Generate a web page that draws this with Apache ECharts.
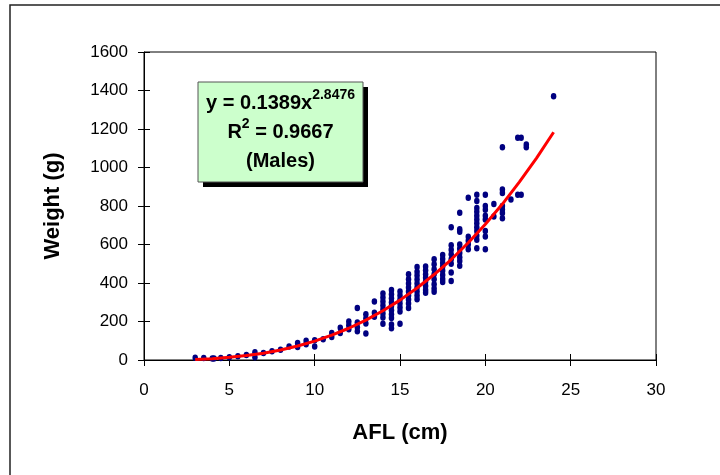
<!DOCTYPE html>
<html>
<head>
<meta charset="utf-8">
<script src="https://cdn.jsdelivr.net/npm/echarts@6/dist/echarts.min.js"></script>
<style>html,body{margin:0;padding:0;background:#fff;}#c{width:720px;height:475px;}</style>
</head>
<body>
<div id="c"></div>
<script>
// AFL length classes (cm) and the weights (g) read at each class
var lengthClasses = [3, 3.5, 4, 4.1, 4.5, 5, 5.5, 6, 6.5, 7, 7.5, 8, 8.5, 9, 9.5, 10, 10.5, 11, 11.5, 12, 12.5, 13, 13.5, 14, 14.5, 15, 15.5, 16, 16.5, 17, 17.5, 18, 18.5, 19, 19.5, 20, 20.5, 21, 21.5, 21.9, 22.1, 22.4, 24];
var weightsByLength = [
  [12], [10], [8], [8], [10], [14], [20], [26], [40, 14], [36], [46], [53], [70], [88, 68], [100, 82], [102, 70], [108],
  [140, 120], [168, 140], [200, 180, 160], [270, 195, 170, 150], [238, 215, 190, 138], [304, 245, 225],
  [345, 325, 304, 283, 262, 242, 221, 188],
  [363, 342, 321, 300, 280, 259, 238, 218, 185, 165],
  [356, 335, 314, 294, 273, 252, 188],
  [445, 420, 397, 377, 356, 335, 314, 294, 270],
  [483, 459, 439, 418, 397, 377, 356, 335, 316],
  [486, 466, 446, 427, 406, 385, 364, 350],
  [523, 497, 472, 446, 420, 394, 372, 355],
  [546, 525, 504, 484, 463, 442, 421, 405],
  [690, 596, 573, 549, 523, 500, 454, 411],
  [765, 679, 666, 600, 578, 556, 534, 514, 490],
  [843, 640, 620, 600, 575],
  [858, 826, 790, 770, 750, 730, 710, 690, 670, 645, 625, 580],
  [858, 800, 780, 750, 730, 670, 642, 575],
  [810, 745],
  [1105, 886, 868, 800, 782, 764, 736],
  [834],
  [1155, 858], [1155, 858],
  [1120, 1105],
  [1370]
];
// Fitted power trend line
var fitX = [3, 4, 5, 6, 7, 8, 9, 10, 11, 12, 13, 14, 15, 16, 17, 18, 19, 20, 21, 22, 23, 24];
var fitY = [3, 7, 14, 23, 35, 52, 73, 98, 129, 165, 207, 256, 311, 374, 444, 522, 609, 705, 810, 925, 1049, 1183];
var xTickInterval = 5, yTickInterval = 200;

var scatterData = [];
lengthClasses.forEach(function (x, i) {
  weightsByLength[i].forEach(function (w) { scatterData.push([x, w]); });
});
var lineData = fitX.map(function (x, i) { return [x, fitY[i]]; });

var FONT = "'Liberation Sans', Arial, sans-serif";
var plain = function (v) { return String(v); };
var chart = echarts.init(document.getElementById('c'), null, {renderer: 'canvas'});
chart.setOption({
  animation: false,
  backgroundColor: '#fff',
  grid: {left: 144, top: 52, width: 512, height: 308, show: true, borderColor: '#000', borderWidth: 1, backgroundColor: 'transparent'},
  xAxis: [{
    type: 'value', min: 0, max: 30, interval: xTickInterval, position: 'bottom',
    name: 'AFL (cm)', nameLocation: 'middle', nameGap: 62,
    nameTextStyle: {fontFamily: FONT, fontSize: 22, fontWeight: 'bold', color: '#000'},
    axisLine: {show: true, lineStyle: {color: '#000', width: 1}},
    axisTick: {show: true, length: 6, lineStyle: {color: '#000'}},
    axisLabel: {fontFamily: FONT, fontSize: 17, color: '#000', margin: 22, formatter: plain},
    splitLine: {show: false}
  }, {
    type: 'value', min: 0, max: 30, interval: xTickInterval, position: 'bottom',
    axisLine: {show: false}, axisTick: {show: true, inside: true, length: 6, lineStyle: {color: '#000'}},
    axisLabel: {show: false}, splitLine: {show: false}
  }],
  yAxis: [{
    type: 'value', min: 0, max: 1600, interval: yTickInterval, position: 'left',
    name: 'Weight (g)', nameLocation: 'middle', nameGap: 80,
    nameTextStyle: {fontFamily: FONT, fontSize: 22, fontWeight: 'bold', color: '#000'},
    axisLine: {show: true, lineStyle: {color: '#000', width: 1}},
    axisTick: {show: true, length: 6, lineStyle: {color: '#000'}},
    axisLabel: {fontFamily: FONT, fontSize: 17, color: '#000', margin: 16, formatter: plain},
    splitLine: {show: false}
  }, {
    type: 'value', min: 0, max: 1600, interval: yTickInterval, position: 'left',
    axisLine: {show: false}, axisTick: {show: true, inside: true, length: 6, lineStyle: {color: '#000'}},
    axisLabel: {show: false}, splitLine: {show: false}
  }],
  series: [{
    type: 'scatter', xAxisIndex: 0, yAxisIndex: 0, data: scatterData,
    symbol: 'circle', symbolSize: [5.5, 6.5], itemStyle: {color: '#000080', opacity: 1}, z: 2
  }, {
    type: 'line', xAxisIndex: 0, yAxisIndex: 0, data: lineData, showSymbol: false, smooth: false,
    lineStyle: {color: '#FF0000', width: 3}, z: 3
  }],
  graphic: [
    {type: 'rect', shape: {x: 10, y: 5, width: 730, height: 490}, style: {fill: 'none', stroke: '#222', lineWidth: 1.5}, z: 1},
    {type: 'rect', shape: {x: 203, y: 87, width: 165, height: 100}, style: {fill: '#000'}, z: 10},
    {type: 'rect', shape: {x: 198, y: 82, width: 165, height: 100}, style: {fill: '#CCFFCC', stroke: '#555', lineWidth: 1}, z: 11},
    {type: 'text', x: 280.5, y: 132, z: 12, style: {
      text: '{b|y = 0.1389x}{s|2.8476}\n{b|R}{s|2}{b| = 0.9667}\n{b|(Males)}',
      align: 'center', verticalAlign: 'middle',
      rich: {
        b: {fontFamily: FONT, fontSize: 20, fontWeight: 'bold', fill: '#000', lineHeight: 29},
        s: {fontFamily: FONT, fontSize: 14, fontWeight: 'bold', fill: '#000', lineHeight: 16, verticalAlign: 'top'}
      }
    }}
  ]
});
</script>
</body>
</html>
